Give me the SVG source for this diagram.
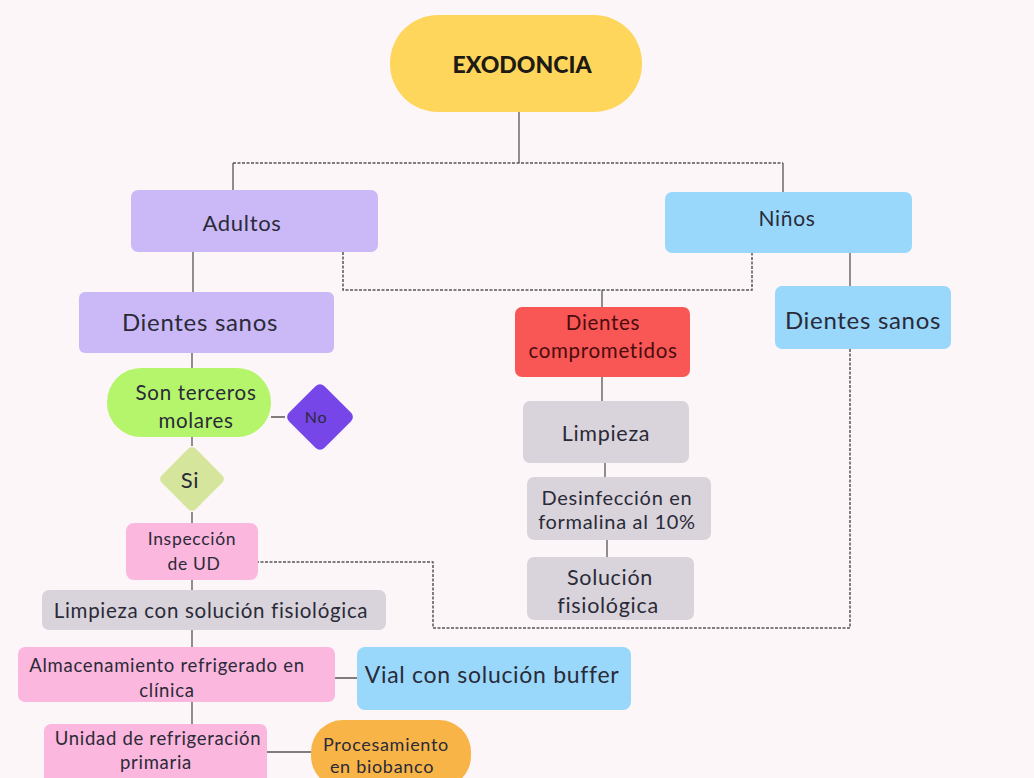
<svg xmlns="http://www.w3.org/2000/svg" width="1034" height="778" viewBox="0 0 1034 778">
<style>
.t{font-family:"Lato","Open Sans",sans-serif;fill:#2a2a38;text-anchor:middle;dominant-baseline:central;letter-spacing:0.7px}
.c{stroke:#555;stroke-width:1.3;fill:none}
.d{stroke:#555;stroke-width:1.5;fill:none;stroke-dasharray:3 1.5}
.pur{fill:#cbb9f7}
.blu{fill:#99d8fb}
.gry{fill:#d9d4db}
.pnk{fill:#fbb7dd}
</style>
<rect width="1034" height="778" fill="#fdf6f8"/>
<g id="connectors">
<path class="c" d="M519 112V163"/>
<path class="d" d="M233 163H783"/>
<path class="c" d="M233 163V190M783 163V192"/>
<path class="c" d="M193 252V292"/>
<path class="d" d="M343 252V290H752V253"/>
<path class="c" d="M602 290V307"/>
<path class="c" d="M850 253V286"/>
<path class="d" d="M850 349V628H433V562H258"/>
<path class="c" d="M602 377V401M605 463V477M607 540V557"/>
<path class="c" d="M192 353V368M192 437V446M192 512V523M271 417H285"/>
<path class="c" d="M192 580V590M192 630V647M192 702V724M335 678H357M267 752H311"/>
</g>
<g id="exodoncia">
<rect x="390" y="15" width="252" height="97" rx="48" fill="#fdd65b"/>
<text class="t" x="522" y="64" font-size="23" font-weight="900" style="fill:#1e1a14;letter-spacing:0">EXODONCIA</text>
</g>
<g id="adultos">
<rect class="pur" x="131" y="190" width="247" height="62" rx="7"/>
<text class="t" x="242" y="222" font-size="22">Adultos</text>
</g>
<g id="ninos">
<rect class="blu" x="665" y="192" width="247" height="61" rx="7"/>
<text class="t" x="787" y="217" font-size="21">Niños</text>
</g>
<g id="dientes-sanos-adultos">
<rect class="pur" x="79" y="292" width="255" height="61" rx="6"/>
<text class="t" x="200" y="321" font-size="24">Dientes sanos</text>
</g>
<g id="dientes-comprometidos">
<rect x="515" y="307" width="175" height="70" rx="7" fill="#f95656"/>
<text class="t" x="603" y="322" font-size="20.5" style="fill:#4a0d0d">Dientes</text>
<text class="t" x="603" y="350" font-size="20.5" style="fill:#4a0d0d">comprometidos</text>
</g>
<g id="dientes-sanos-ninos">
<rect class="blu" x="775" y="286" width="176" height="63" rx="7"/>
<text class="t" x="863" y="319" font-size="24">Dientes sanos</text>
</g>
<g id="limpieza">
<rect class="gry" x="523" y="401" width="166" height="62" rx="7"/>
<text class="t" x="606" y="433" font-size="21.5">Limpieza</text>
</g>
<g id="desinfeccion">
<rect class="gry" x="527" y="477" width="184" height="63" rx="7"/>
<text class="t" x="617" y="497" font-size="20">Desinfección en</text>
<text class="t" x="617" y="521" font-size="20">formalina al 10%</text>
</g>
<g id="solucion-fisiologica">
<rect class="gry" x="527" y="557" width="167" height="63" rx="7"/>
<text class="t" x="610" y="577" font-size="21.5">Solución</text>
<text class="t" x="608" y="605" font-size="21.5">fisiológica</text>
</g>
<g id="terceros-molares">
<rect x="107" y="368" width="164" height="69" rx="34" fill="#b5f56b"/>
<text class="t" x="196" y="392" font-size="20.5">Son terceros</text>
<text class="t" x="196" y="420" font-size="20.5">molares</text>
</g>
<g id="no">
<rect x="295" y="392" width="50" height="50" rx="6" fill="#7646e8" transform="rotate(45 320 417)"/>
<text class="t" x="316" y="416" font-size="16">No</text>
</g>
<g id="si">
<rect x="168" y="455" width="48" height="48" rx="5" fill="#d5e59c" transform="rotate(45 192 479)"/>
<text class="t" x="190" y="479" font-size="22">Si</text>
</g>
<g id="inspeccion">
<rect class="pnk" x="126" y="523" width="132" height="57" rx="8"/>
<text class="t" x="192" y="538" font-size="17.5">Inspección</text>
<text class="t" x="194" y="563" font-size="17.5">de UD</text>
</g>
<g id="limpieza-solucion">
<rect class="gry" x="42" y="590" width="344" height="40" rx="7"/>
<text class="t" x="211" y="610" font-size="20.5">Limpieza con solución fisiológica</text>
</g>
<g id="almacenamiento">
<rect class="pnk" x="18" y="647" width="317" height="55" rx="7"/>
<text class="t" x="167" y="665" font-size="18.5">Almacenamiento refrigerado en</text>
<text class="t" x="167" y="690" font-size="18.5">clínica</text>
</g>
<g id="vial">
<rect class="blu" x="357" y="647" width="274" height="63" rx="8"/>
<text class="t" x="492" y="674" font-size="23">Vial con solución buffer</text>
</g>
<g id="unidad">
<rect class="pnk" x="44" y="724" width="223" height="60" rx="7"/>
<text class="t" x="158" y="738" font-size="18.5">Unidad de refrigeración</text>
<text class="t" x="156" y="762" font-size="18.5">primaria</text>
</g>
<g id="procesamiento">
<rect x="311" y="720" width="160" height="68" rx="32" fill="#f9b448"/>
<text class="t" x="386" y="744" font-size="18">Procesamiento</text>
<text class="t" x="382" y="766" font-size="18">en biobanco</text>
</g>
</svg>
